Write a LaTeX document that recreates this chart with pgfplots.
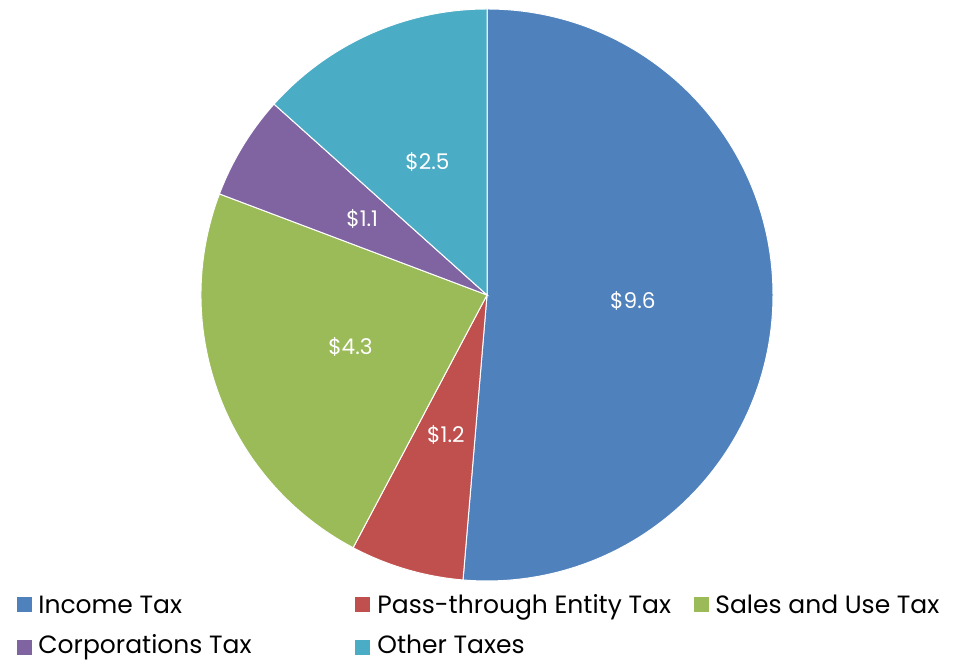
\documentclass[border=0pt]{standalone}
\usepackage{fontspec}
\setmainfont{Poppins}
\usepackage{pgfplots}
\pgfplotsset{compat=1.18}
\definecolor{cA}{HTML}{4F81BD}
\definecolor{cB}{HTML}{C0504D}
\definecolor{cC}{HTML}{9BBB59}
\definecolor{cD}{HTML}{8064A2}
\definecolor{cE}{HTML}{4BACC6}
\begin{document}
\begin{tikzpicture}
\useasboundingbox (0,0) rectangle (479.5pt,331pt);
% values (billions)
\def\vA{9.6}\def\vB{1.2}\def\vC{4.3}\def\vD{1.1}\def\vE{2.5}
\pgfmathsetmacro\tot{\vA+\vB+\vC+\vD+\vE}
\pgfmathsetmacro\aA{90}
\pgfmathsetmacro\aB{\aA-360*\vA/\tot}
\pgfmathsetmacro\aC{\aB-360*\vB/\tot}
\pgfmathsetmacro\aD{\aC-360*\vC/\tot}
\pgfmathsetmacro\aE{\aD-360*\vD/\tot}
\pgfmathsetmacro\aF{\aE-360*\vE/\tot}
\pgfmathsetmacro\mA{(\aA+\aB)/2}
\pgfmathsetmacro\mB{(\aB+\aC)/2}
\pgfmathsetmacro\mC{(\aC+\aD)/2}
\pgfmathsetmacro\mD{(\aD+\aE)/2}
\pgfmathsetmacro\mE{(\aE+\aF)/2}
\begin{axis}[at={(0,0)}, anchor=origin, x=0.5pt, y=0.5pt,
  xmin=0, xmax=959, ymin=0, ymax=662, hide axis, clip=false]
\addplot[draw=none, forget plot] coordinates {(0,0) (959,662)};
\fill[cA, draw=white, line width=0.5pt] (axis cs:487,367) -- ++(\aA:143pt) arc[start angle=\aA, end angle=\aB, radius=143pt] -- cycle;
\fill[cB, draw=white, line width=0.5pt] (axis cs:487,367) -- ++(\aB:143pt) arc[start angle=\aB, end angle=\aC, radius=143pt] -- cycle;
\fill[cC, draw=white, line width=0.5pt] (axis cs:487,367) -- ++(\aC:143pt) arc[start angle=\aC, end angle=\aD, radius=143pt] -- cycle;
\fill[cD, draw=white, line width=0.5pt] (axis cs:487,367) -- ++(\aD:143pt) arc[start angle=\aD, end angle=\aE, radius=143pt] -- cycle;
\fill[cE, draw=white, line width=0.5pt] (axis cs:487,367) -- ++(\aE:143pt) arc[start angle=\aE, end angle=\aF, radius=143pt] -- cycle;
\tikzset{lab/.style={text=white, font=\fontsize{10.8}{12}\selectfont, inner sep=0pt}}
\node[lab, shift={(\mA:73pt)}] at (axis cs:487,367) {\$\vA};
\node[lab, shift={(\mB:73pt)}] at (axis cs:487,367) {\$\vB};
\node[lab, shift={(\mC:73pt)}] at (axis cs:487,367) {\$\vC};
\node[lab, shift={(\mD:73pt)}] at (axis cs:487,367) {\$\vD};
\node[lab, shift={(\mE:73pt)}] at (axis cs:487,367) {\$\vE};
\tikzset{leg/.style={font=\fontsize{12.5}{14}\selectfont, anchor=base west, inner sep=0pt, text=black}}
\fill[cA] (axis cs:17,50) rectangle (axis cs:32,65);
\node[leg] at (axis cs:38,48) {Income Tax};
\fill[cB] (axis cs:355,50) rectangle (axis cs:370,65);
\node[leg] at (axis cs:377,48) {Pass-through Entity Tax};
\fill[cC] (axis cs:694,50) rectangle (axis cs:709,65);
\node[leg] at (axis cs:715,48) {Sales and Use Tax};
\fill[cD] (axis cs:17,7) rectangle (axis cs:32,22);
\node[leg] at (axis cs:38,8) {Corporations Tax};
\fill[cE] (axis cs:355,7) rectangle (axis cs:370,22);
\node[leg] at (axis cs:377,8) {Other Taxes};
\end{axis}
\end{tikzpicture}
\end{document}
